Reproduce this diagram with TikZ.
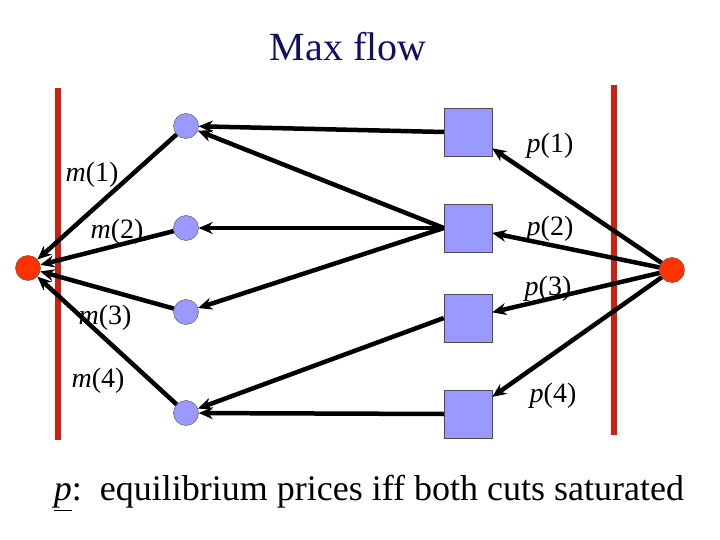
\documentclass[tikz,border=0pt]{standalone}
\usepackage{fontspec}
\setmainfont{Liberation Serif}
\usetikzlibrary{arrows.meta}
\usetikzlibrary{positioning}
\definecolor{titleblue}{RGB}{16,16,96}
\definecolor{nodeblue}{RGB}{153,153,255}
\definecolor{cutred}{RGB}{204,34,17}
\definecolor{endred}{RGB}{255,51,0}

\begin{document}
\begin{tikzpicture}[
    x=1pt, y=-1pt,  % pixel-like coordinates
    buyer/.style={
        circle,
        draw=black!70,
        fill=nodeblue,
        minimum size=25pt,
        inner sep=0pt
    },
    good/.style={
        rectangle,
        draw=black!70,
        fill=nodeblue,
        minimum size=48pt,
        inner sep=0pt
    },
    terminal/.style={
        circle,
        draw=black!70,
        fill=endred,
        minimum size=25pt,
        inner sep=0pt
    },
    flow/.style={-{Stealth[length=14pt,width=12pt]}, line width=4.5pt},
    cut/.style={cutred, line width=6.5pt},
    lbl/.style={font=\fontsize{28}{32}\selectfont, inner sep=0pt}
]
    \useasboundingbox (0,0) rectangle (720,540);

    \node (title) [font=\fontsize{40}{44}\selectfont, text=titleblue] at (348,47) {Max flow};

    % Cortes
    \draw [cut] (58,88) -- (58,440);
    \draw [cut] (614,85) -- (614,435);

    \node (sink) [terminal] at (28,268) {};
    \node (source) [terminal] at (672,270) {};

    \node (buyer1) [buyer] at (186,126) {};
    \node (buyer2) [buyer] at (186,228) {};
    \node (buyer3) [buyer] at (186,312) {};
    \node (buyer4) [buyer] at (186,413) {};

    \node (good1) [good] at (468,132) {};
    \node (good2) [good] at (468,228) {};
    \node (good3) [good] at (468,318) {};
    \node (good4) [good] at (468,414) {};

    \node (m1) [lbl] at (92,175) {\textit{m}(1)};
    \node (m2) [lbl] at (117,232) {\textit{m}(2)};
    \node (m3) [lbl] at (105,318) {\textit{m}(3)};
    \node (m4) [lbl] at (98,381) {\textit{m}(4)};
    \node (p1) [lbl] at (550,146) {\textit{p}(1)};
    \node (p2) [lbl] at (550,229) {\textit{p}(2)};
    \node (p3) [lbl] at (548,289) {\textit{p}(3)};
    \node (p4) [lbl] at (553,396) {\textit{p}(4)};

    % Conexiones con flechas
    \draw [flow] (source) -- (good1);
    \draw [flow] (source) -- (good2);
    \draw [flow] (source) -- (good3);
    \draw [flow] (source) -- (good4);
    \draw [flow] (good1.west) -- (buyer1);
    \draw [flow] (good2.west) -- (buyer1);
    \draw [flow] (good2.west) -- (buyer2);
    \draw [flow] (good2.west) -- (buyer3);
    \draw [flow] (good3.west) -- (buyer4);
    \draw [flow] (good4.west) -- (buyer4);
    \draw [flow] (buyer1) -- (sink);
    \draw [flow] (buyer2) -- (sink);
    \draw [flow] (buyer3) -- (sink);
    \draw [flow] (buyer4) -- (sink);

    \node (note) [font=\fontsize{36}{40}\selectfont] at (369,493) {\underline{\textit{p}}:\ \ equilibrium prices iff both cuts saturated};
\end{tikzpicture}
\end{document}
